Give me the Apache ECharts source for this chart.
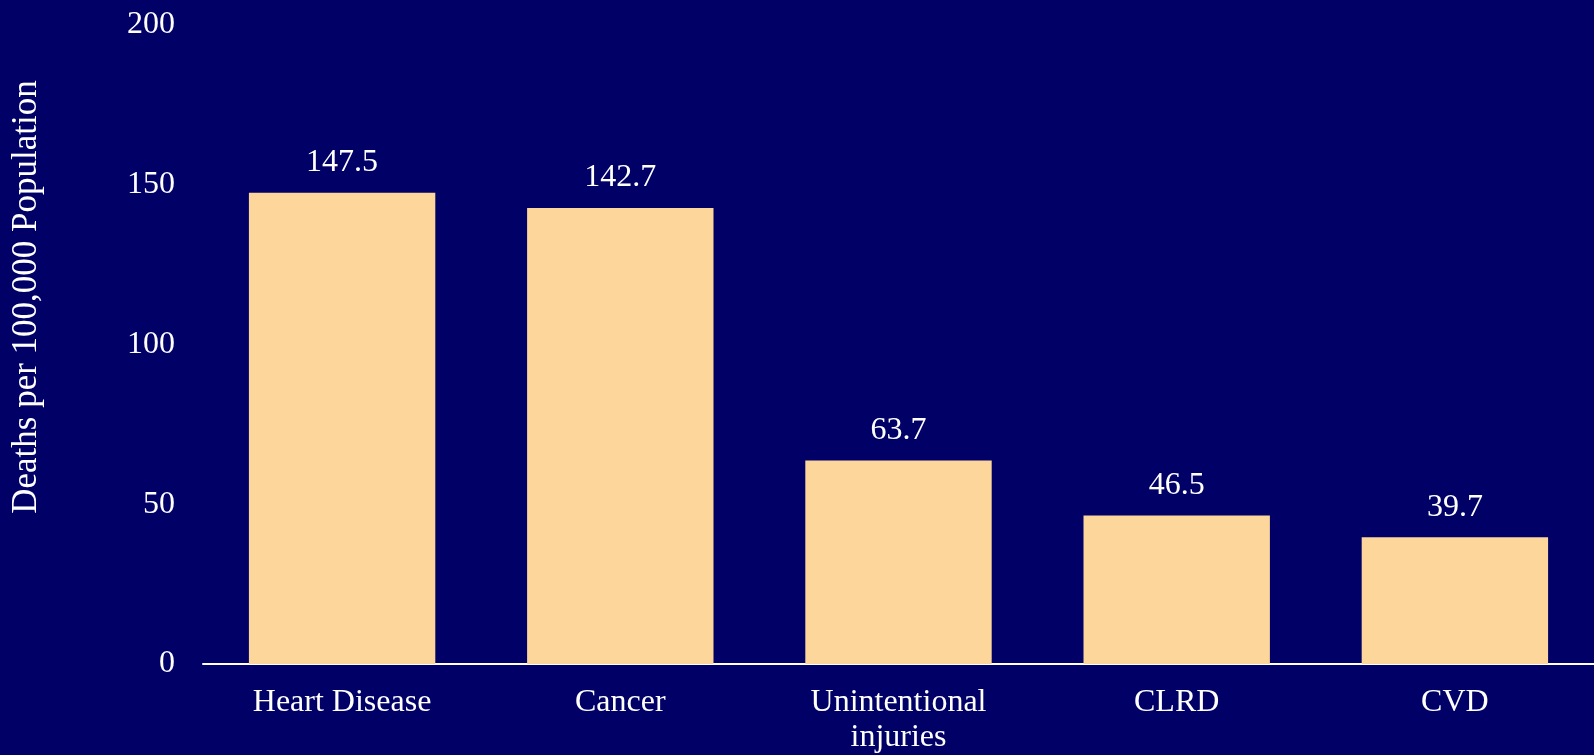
<!DOCTYPE html>
<html>
<head>
<meta charset="utf-8">
<script src="https://cdn.jsdelivr.net/npm/echarts@6/dist/echarts.min.js"></script>
<style>
  html, body { margin: 0; padding: 0; background: #000066; }
  #chart { width: 1594px; height: 755px; }
</style>
</head>
<body>
<div id="chart"></div>
<script>
// 数据
const categories = ['Heart Disease', 'Cancer', 'Unintentional\ninjuries', 'CLRD', 'CVD'];
const deathRates = [147.5, 142.7, 63.7, 46.5, 39.7];
const yTicks = [0, 50, 100, 150, 200];
const yTitle = 'Deaths per 100,000 Population';

const serif = '"Liberation Serif", "Times New Roman", serif';

const chart = echarts.init(document.getElementById('chart'));

const option = {
    backgroundColor: '#000066',
    animation: false,
    grid: { left: 203, right: 0, top: 25, bottom: 87 },
    xAxis: {
        type: 'category',
        data: categories,
        axisLine: { lineStyle: { color: '#ffffff', width: 2 } },
        axisTick: { show: false },
        axisLabel: {
            color: '#ffffff',
            fontFamily: serif,
            fontSize: 32,
            lineHeight: 35,
            margin: 21,
            interval: 0
        }
    },
    yAxis: {
        type: 'value',
        min: yTicks[0],
        max: yTicks[yTicks.length - 1],
        interval: 50,
        axisLine: { show: false },
        axisTick: { show: false },
        splitLine: { show: false },
        axisLabel: {
            color: '#ffffff',
            fontFamily: serif,
            fontSize: 32,
            margin: 28
        }
    },
    graphic: [{
        type: 'text',
        x: 27,
        y: 297,
        rotation: Math.PI / 2,
        style: {
            text: yTitle,
            fill: '#ffffff',
            font: '35px ' + serif,
            align: 'center',
            verticalAlign: 'middle'
        }
    }],
    series: [{
        type: 'bar',
        data: deathRates,
        barCategoryGap: '33%',
        itemStyle: { color: '#FDD69B' },
        label: {
            show: true,
            position: 'top',
            distance: 14,
            color: '#ffffff',
            fontFamily: serif,
            fontSize: 32,
            formatter: p => p.value.toFixed(1)
        }
    }]
};

option && chart.setOption(option);
</script>
</body>
</html>
